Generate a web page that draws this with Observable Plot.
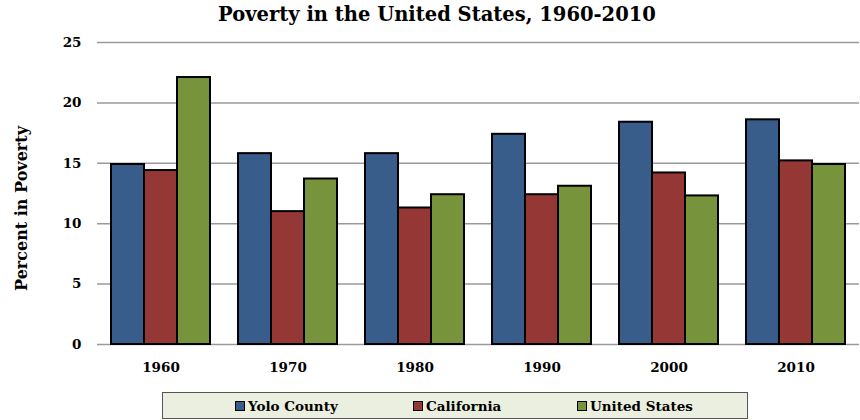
<!DOCTYPE html>
<html><head><meta charset="utf-8">
<script src="https://cdn.jsdelivr.net/npm/d3@7"></script>
<script src="https://cdn.jsdelivr.net/npm/@observablehq/plot@0.6"></script>
<style>
body{margin:0;background:#fff;font-family:"DejaVu Serif",serif;font-weight:bold;color:#000}
#wrap{width:860px;height:420px;position:relative;overflow:hidden;background:#fff}
#title{height:30px;line-height:30px;font-size:19.5px;text-align:center;padding-left:14px;white-space:nowrap}
#legend{position:absolute;left:162px;top:392px;width:584px;height:25px;border:1.5px solid #555;background:#ebefdf;display:flex;justify-content:flex-start;align-items:center;font-size:13.5px;padding-left:0;box-sizing:content-box}
.item{display:flex;align-items:center;white-space:nowrap;position:absolute;top:5px}
.sw{display:inline-block;width:8px;height:8px;border:1.5px solid #000;margin-right:3px}
</style></head>
<body>
<div id="wrap">
<div id="title">Poverty in the United States, 1960-2010</div>
<div id="chart"></div>
<div id="legend"></div>
</div>
<script>
const years = ["1960","1970","1980","1990","2000","2010"];
const series = ["Yolo County","California","United States"];
const yolo = [14.9, 15.8, 15.8, 17.4, 18.4, 18.6];
const california = [14.4, 11.0, 11.3, 12.4, 14.2, 15.2];
const unitedStates = [22.1, 13.7, 12.4, 13.1, 12.3, 14.9];
const yTicks = [0, 5, 10, 15, 20, 25];
const colors = ["#385d8a", "#953735", "#77933c"];
const yLabel = "Percent in Poverty";

const values = [yolo, california, unitedStates];
const data = [];
years.forEach((yr, i) => series.forEach((s, j) => data.push({year: yr, series: s, value: values[j][i]})));

const chart = Plot.plot({
  width: 860, height: 355,
  marginTop: 12, marginBottom: 41, marginLeft: 95, marginRight: 0,
  style: {fontFamily: '"DejaVu Serif", serif', fontWeight: "bold", fontSize: "13.5px", color: "#000", background: "#fff"},
  fx: {domain: years, padding: 0, label: null, axis: "bottom", tickSize: 0, tickPadding: 18},
  x: {domain: series, axis: null, paddingInner: 0, paddingOuter: 0.375},
  y: {domain: [0, 25], ticks: yTicks, tickSize: 0, tickPadding: 16, label: yLabel, labelAnchor: "center", labelOffset: 82},
  color: {domain: series, range: colors},
  marks: [
    Plot.ruleY(yTicks, {stroke: "#9a9a9a", strokeWidth: 1.5}),
    Plot.barY(data, {fx: "year", x: "series", y: "value", fill: "series", stroke: "#000", strokeWidth: 2})
  ]
});
chart.querySelectorAll("text").forEach(t => {
  if (t.textContent.indexOf(yLabel) >= 0) {
    t.textContent = yLabel;
    t.style.fontSize = "16px";
    const tr = t.getAttribute("transform") || "";
    t.setAttribute("transform", tr + " translate(-15,0)");
  }
});
document.getElementById("chart").appendChild(chart);

const legend = document.getElementById("legend");
const legendLeft = [72, 250, 414];
series.forEach((s, i) => {
  const it = document.createElement("div");
  it.className = "item";
  it.style.left = legendLeft[i] + "px";
  const sw = document.createElement("span");
  sw.className = "sw";
  sw.style.background = colors[i];
  it.appendChild(sw);
  it.appendChild(document.createTextNode(s));
  legend.appendChild(it);
});
</script>
</body></html>
